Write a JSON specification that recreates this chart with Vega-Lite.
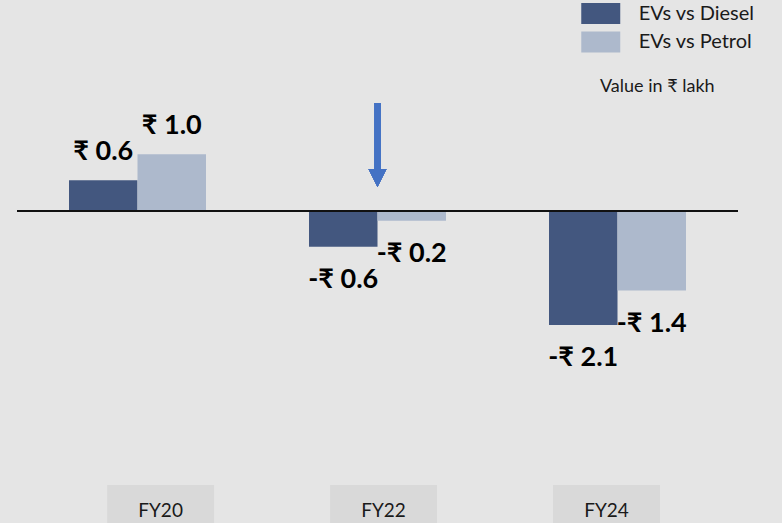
{
  "$schema": "https://vega.github.io/schema/vega-lite/v6.json",
  "width": 721,
  "height": 523,
  "autosize": {"type": "none"},
  "padding": {"left": 17, "top": 0, "right": 44, "bottom": 0},
  "background": "#e5e5e5",
  "config": {"view": {"stroke": null}, "font": "Lato"},
  "title": {
    "text": "Value in ₹ lakh",
    "anchor": "start",
    "frame": "group",
    "orient": "top",
    "offset": 0,
    "dx": 583,
    "dy": 110,
    "baseline": "alphabetic",
    "fontSize": 18,
    "fontWeight": "normal",
    "color": "#1a1a1a",
    "font": "Lato"
  },
  "layer": [
    {
      "data": {
        "values": [
          {"year": "FY20", "series": "EVs vs Diesel", "value": 0.565, "label": "₹ 0.6"},
          {"year": "FY20", "series": "EVs vs Petrol", "value": 1.044, "label": "₹ 1.0"},
          {"year": "FY22", "series": "EVs vs Diesel", "value": -0.657, "label": "-₹ 0.6"},
          {"year": "FY22", "series": "EVs vs Petrol", "value": -0.18, "label": "-₹ 0.2"},
          {"year": "FY24", "series": "EVs vs Diesel", "value": -2.1, "label": "-₹ 2.1"},
          {"year": "FY24", "series": "EVs vs Petrol", "value": -1.465, "label": "-₹ 1.4"}
        ]
      },
      "layer": [
        {
          "mark": {"type": "bar"},
          "encoding": {
            "x": {"field": "year", "type": "nominal", "axis": null, "scale": {"paddingInner": 0.4292, "paddingOuter": 0.2167, "align": 0.5}},
            "y": {"field": "value", "type": "quantitative", "axis": null, "scale": {"domain": [-5.746, 3.886], "nice": false, "zero": false}},
            "xOffset": {"field": "series", "type": "nominal", "scale": {"paddingInner": 0, "paddingOuter": 0}},
            "color": {
              "field": "series",
              "type": "nominal",
              "scale": {"domain": ["EVs vs Diesel", "EVs vs Petrol"], "range": ["#43577f", "#adb9cc"]},
              "legend": {
                "title": null,
                "orient": "none",
                "legendX": 573.75,
                "legendY": 3.5,
                "padding": 0,
                "symbolType": "M-2,-1.08H2V1.08H-2Z",
                "symbolSize": 380,
                "symbolStrokeWidth": 0,
                "labelFontSize": 20,
                "labelFont": "Lato",
                "labelColor": "#1a1a1a",
                "labelOffset": 28,
                "rowPadding": 6.5
              }
            }
          }
        },
        {
          "transform": [{"filter": "datum.value > 0"}],
          "mark": {"type": "text", "dy": -20, "baseline": "alphabetic", "fontWeight": "bold", "fontSize": 27, "color": "#000000"},
          "encoding": {
            "x": {"field": "year", "type": "nominal"},
            "y": {"field": "value", "type": "quantitative"},
            "xOffset": {"field": "series", "type": "nominal"},
            "text": {"field": "label"}
          }
        },
        {
          "transform": [{"filter": "datum.value < 0"}],
          "mark": {"type": "text", "dy": 41, "baseline": "alphabetic", "fontWeight": "bold", "fontSize": 27, "color": "#000000"},
          "encoding": {
            "x": {"field": "year", "type": "nominal"},
            "y": {"field": "value", "type": "quantitative"},
            "xOffset": {"field": "series", "type": "nominal"},
            "text": {"field": "label"}
          }
        },
        {
          "mark": {"type": "rule", "color": "#111111", "strokeWidth": 2},
          "encoding": {"y": {"datum": 0, "type": "quantitative"}}
        },
        {
          "mark": {"type": "rule", "color": "#4472c4", "strokeWidth": 6},
          "encoding": {
            "x": {"datum": "FY22", "type": "nominal"},
            "y": {"datum": 1.989, "type": "quantitative"},
            "y2": {"datum": 0.74}
          }
        },
        {
          "mark": {"type": "point", "shape": "M-1,-1L1,-1L0,1Z", "filled": true, "size": 324, "color": "#4472c4", "opacity": 1},
          "encoding": {
            "x": {"datum": "FY22", "type": "nominal"},
            "y": {"datum": 0.608, "type": "quantitative"}
          }
        }
      ]
    },
    {
      "data": {"values": [{"year": "FY20"}, {"year": "FY22"}, {"year": "FY24"}]},
      "layer": [
        {
          "mark": {"type": "bar", "color": "#d9d9d9"},
          "encoding": {
            "x": {"field": "year", "type": "nominal", "axis": null, "scale": {"paddingInner": 0.5202, "paddingOuter": 0.377, "align": 0.536}},
            "y": {"datum": -5.046, "type": "quantitative"},
            "y2": {"datum": -5.746}
          }
        },
        {
          "mark": {"type": "text", "baseline": "alphabetic", "fontSize": 19, "color": "#1a1a1a"},
          "encoding": {
            "x": {"field": "year", "type": "nominal"},
            "y": {"datum": -5.635, "type": "quantitative"},
            "text": {"field": "year"}
          }
        }
      ]
    }
  ],
  "resolve": {"scale": {"x": "independent"}}
}
